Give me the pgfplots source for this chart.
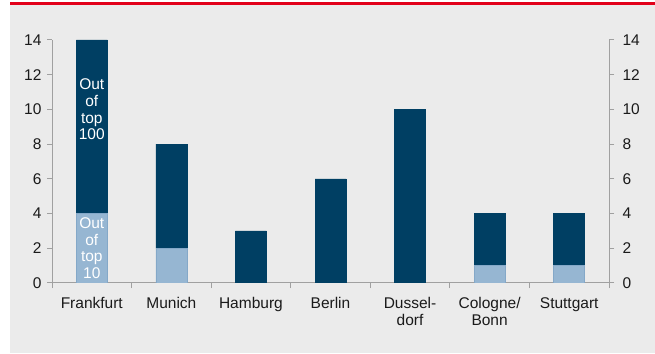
\documentclass[border=0pt]{standalone}
\usepackage{fontspec}
\setmainfont{Liberation Sans}
\usepackage{pgfplots}
\pgfplotsset{compat=1.18}
\definecolor{bgg}{HTML}{EBEBEB}
\definecolor{dbred}{HTML}{E2001A}
\definecolor{navy}{HTML}{003F63}
\definecolor{lblue}{HTML}{96B6D2}
\definecolor{lbedge}{HTML}{84A8C8}
\definecolor{axgray}{HTML}{A0A0A0}
\definecolor{txt}{HTML}{1A1A1A}
\begin{document}
\begin{tikzpicture}[x=1pt,y=1pt]
\useasboundingbox (0,0) rectangle (655,353);
\fill[bgg] (10,0) rectangle (655,348);
\fill[dbred] (10,348) rectangle (655,351);
\pgfplotsset{
  common/.style={
    at={(52pt,70pt)}, anchor=south west,
    scale only axis, width=557pt, height=243pt,
    xmin=-0.5, xmax=6.5, ymin=0, ymax=14,
    ytick={0,2,...,14},
    /pgf/number format/assume math mode=true,
    tick label style={font=\fontsize{15.5}{17}\selectfont, text=txt},
    axis line style={draw=axgray, line width=1pt, -},
    tick style={draw=axgray, line width=1pt},
    major tick length=5pt, minor tick length=5pt,
    tick align=outside,
  }
}
\begin{axis}[common,
  axis y line*=left, axis x line*=bottom,
  yticklabel style={xshift=-2pt},
  xtick={0,...,6},
  xticklabels={Frankfurt,Munich,Hamburg,Berlin,{Dussel-\\dorf},{Cologne/\\Bonn},Stuttgart},
  xticklabel style={align=center, yshift=-6pt},
  major x tick style={draw=none},
  minor xtick={-0.5,0.5,...,6.5},
  ybar stacked, bar width=31pt,
]
\addplot[fill=lblue, draw=lbedge, line width=0.6pt] coordinates {(0,4) (1,2) (2,0) (3,0) (4,0) (5,1) (6,1)};
\addplot[fill=navy, draw=navy, line width=0.6pt] coordinates {(0,10) (1,6) (2,3) (3,6) (4,10) (5,3) (6,3)};
\end{axis}
\begin{axis}[common,
  axis y line*=right, axis x line=none,
  yticklabel style={xshift=5pt},
]
\node[text=white, align=center, font=\fontsize{15.5}{16.7}\selectfont] at (axis cs:0,10) {Out\\of\\top\\100};
\node[text=white, align=center, font=\fontsize{15.5}{16.7}\selectfont] at (axis cs:0,2) {Out\\of\\top\\10};
\end{axis}
\end{tikzpicture}
\end{document}
